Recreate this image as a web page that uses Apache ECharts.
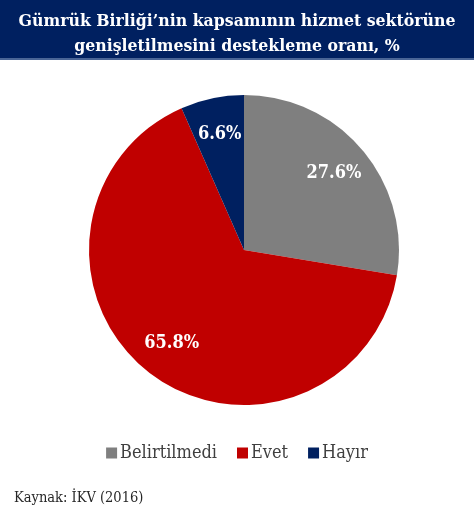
<!DOCTYPE html>
<html>
<head>
<meta charset="utf-8">
<script src="https://cdn.jsdelivr.net/npm/echarts@6/dist/echarts.min.js"></script>
<style>
  html, body { margin: 0; padding: 0; background: #fff; }
  #chart { width: 474px; height: 520px; }
</style>
</head>
<body>
<div id="chart"></div>
<script>
var categories = ['Belirtilmedi', 'Evet', 'Hayır'];
var shares = [27.6, 65.8, 6.6];
var colors = ['#7f7f7f', '#c00000', '#002060'];

var titleText = 'Gümrük Birliği’nin kapsamının hizmet sektörüne\ngenişletilmesini destekleme oranı, %';
var sourceText = 'Kaynak: İKV (2016)';

var serif = 'DejaVu Serif Condensed, DejaVu Serif, serif';

var pieData = categories.map(function (name, i) {
  return { name: name, value: shares[i], itemStyle: { color: colors[i] } };
});
// same values, no colour: only carries the labels
var labelData = categories.map(function (name, i) {
  return { name: name, value: shares[i] };
});

var chart = echarts.init(document.getElementById('chart'), null, { renderer: 'canvas' });

chart.setOption({
  animation: false,
  graphic: [
    { type: 'rect', shape: { x: 0, y: 0, width: 474, height: 59 }, style: { fill: '#002060' }, z: 0 },
    { type: 'rect', shape: { x: 0, y: 58, width: 474, height: 2 }, style: { fill: '#4a6596' }, z: 0 },
    {
      type: 'text', left: 14, top: 491, z: 5,
      style: { text: sourceText, font: '14.5px ' + serif, fill: '#262626' }
    }
  ],
  title: {
    text: titleText,
    left: 'center',
    top: 4,
    textStyle: {
      color: '#ffffff',
      fontFamily: serif,
      fontWeight: 'bold',
      fontSize: 17.5,
      lineHeight: 25
    }
  },
  legend: {
    data: categories,
    top: 439,
    left: 'center',
    itemWidth: 11,
    itemHeight: 11,
    itemGap: 20,
    icon: 'rect',
    textStyle: { fontFamily: serif, fontSize: 18, color: '#404040', padding: [0, 0, 0, -2] }
  },
  series: [
    {
      type: 'pie',
      center: [244, 250],
      radius: [0, 155],
      startAngle: 90,
      clockwise: true,
      data: pieData,
      label: { show: false },
      labelLine: { show: false },
      emphasis: { disabled: true },
      silent: true
    },
    {
      // invisible carrier pie: puts the value labels further out than 'inside'
      type: 'pie',
      center: [244, 250],
      radius: [0, 230],
      startAngle: 90,
      clockwise: true,
      data: labelData,
      itemStyle: { color: 'rgba(0,0,0,0)' },
      label: {
        show: true,
        position: 'inside',
        formatter: function (p) { return p.value.toFixed(1) + '%'; },
        color: '#ffffff',
        fontFamily: serif,
        fontWeight: 'bold',
        fontSize: 18
      },
      labelLine: { show: false },
      emphasis: { disabled: true },
      silent: true,
      legendHoverLink: false
    }
  ]
});
</script>
</body>
</html>
